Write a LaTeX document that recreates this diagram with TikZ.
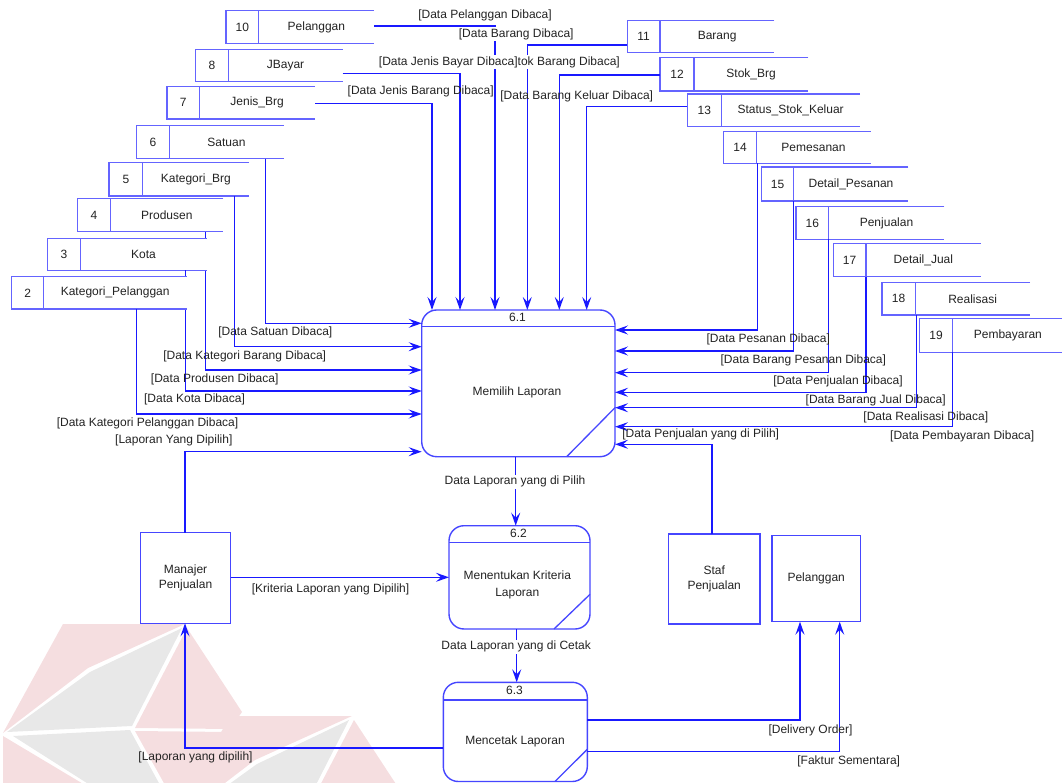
\documentclass[tikz,border=0pt]{standalone}
\usepackage{fontspec}
\setmainfont{Liberation Sans}
\usetikzlibrary{arrows.meta}
\definecolor{flowc}{RGB}{25,25,255}
\definecolor{storec}{RGB}{100,100,255}
\definecolor{procc}{RGB}{70,70,255}
\definecolor{txt}{RGB}{35,35,35}
\definecolor{wmpink}{RGB}{245,222,224}
\definecolor{wmgrey}{RGB}{232,232,232}
\tikzset{
 flow/.style={draw=flowc, line width=1.4pt, -{Stealth[length=13pt,width=9pt,inset=5pt]}},
 storeline/.style={draw=storec, line width=1.5pt},
 storebg/.style={fill=white, draw=none, inner sep=0pt, outer sep=0pt},
 proc/.style={draw=procc, line width=1.4pt, fill=white, rounded corners=15pt, inner sep=0pt, outer sep=0pt},
 procline/.style={draw=procc, line width=1.3pt},
 entity/.style={draw=procc, line width=1.4pt, fill=white, inner sep=0pt, outer sep=0pt, align=center, text=txt, font=\fontsize{12}{15}\selectfont},
 lbl/.style={text=txt, font=\fontsize{12}{14}\selectfont, inner sep=0pt},
 olbl/.style={lbl, fill=white, inner sep=1.5pt},
}
% #1 name, #2 left, #3 top, #4 right, #5 bottom, #6 divider, #7 number, #8 label
\newcommand\dstore[8]{%
 \node[storebg, minimum width={#4-#2}, minimum height={#5-#3}, anchor=north west] (#1) at (#2,#3) {};
 \draw[storeline] (#1.north east) -- (#1.north west) -- (#1.south west) -- (#1.south east);
 \draw[storeline] (#6,#3) -- (#6,#5);
 \node[lbl] at ({(#2+#6)/2},{(#3+#5)/2}) {#7};
 \node[lbl] at ({(#6+#4)/2},{(#3+#5)/2}) {#8};
}
\newcommand\wmmotif[2]{%
 \begin{scope}[shift={(#1,#2)}]
  \fill[wmpink] (-122,-1) -- (0,-1) -- (-97,43) -- (-182,108) -- cycle;
  \fill[wmpink] (2,3) -- (57,87) -- (45,104) -- (-50,103) -- cycle;
  \fill[wmgrey] (-3,3) -- (-95,47) -- (-178,107) -- (-53,101) -- cycle;
  \fill[wmpink] (-182,111) -- (-100,160) -- (-182,160) -- cycle;
  \fill[wmgrey] (-172,111) -- (-55,105) -- (-25,160) -- (-95,160) -- cycle;
  \fill[wmpink] (-50,106) -- (44,107) -- (20,160) -- (-20,160) -- cycle;
 \end{scope}}
\begin{document}
\begin{tikzpicture}[x=1pt,y=-1pt]
\useasboundingbox (0,0) rectangle (1062,783);
\begin{scope}
 \clip (0,0) rectangle (1062,783);
 \wmmotif{185}{625}
 \wmmotif{352}{717}
\end{scope}

% ---------- processes and entities ----------
\node[proc, minimum width=193.3, minimum height=146.7] (p61) at (518.35,383.35) {};
\node[proc, minimum width=141, minimum height=103.3] (p62) at (519.5,577.35) {};
\node[proc, minimum width=144, minimum height=99.2] (p63) at (515.3,731.9) {};
\node[entity, minimum width=90.4, minimum height=90.6] (mgr) at (185.5,578) {Manajer\\Penjualan};
\node[entity, minimum width=91.7, minimum height=90] (staf) at (714.2,579) {Staf\\Penjualan};
\node[entity, minimum width=88.3, minimum height=86.4] (pel) at (816.2,578.5) {Pelanggan};

% ---------- data stores ----------
\dstore{s10}{226}{10.7}{374}{43.3}{258.7}{10}{Pelanggan}
\dstore{s8}{195.7}{49.3}{342.7}{81.7}{228.3}{8}{JBayar}
\dstore{s7}{167}{86.7}{315}{119}{199.3}{7}{Jenis\_Brg}
\dstore{s6}{136.7}{125.3}{283.7}{158.7}{169.3}{6}{Satuan}
\dstore{s5}{109}{162.3}{249}{196}{142.7}{5}{Kategori\_Brg}
\dstore{s4}{77.7}{198.3}{223.3}{231.7}{110.3}{4}{Produsen}
\dstore{s11}{627.3}{20.7}{774.3}{52.3}{660}{11}{Barang}
\dstore{s12}{660}{57.3}{808.3}{91}{694}{12}{Stok\_Brg}
\dstore{s13}{687.3}{94}{860}{126.3}{721.3}{13}{Status\_Stok\_Keluar}
\dstore{s14}{723.7}{131.3}{870.7}{163.3}{756.3}{14}{Pemesanan}
\dstore{s15}{761.3}{167}{908.3}{201}{793.7}{15}{Detail\_Pesanan}
\dstore{s16}{796}{206.7}{944.3}{239.3}{828.7}{16}{Penjualan}
\dstore{s17}{833.3}{243.3}{980.7}{276.7}{866}{17}{Detail\_Jual}
\dstore{s18}{882}{282.7}{1030}{315}{915.3}{18}{Realisasi}
\dstore{s19}{919.3}{318.7}{1063}{352.3}{952.7}{19}{Pembayaran}

% ---------- connectors ----------
\draw[flow] (s10.east |- 0,26) -| (p61.north -| 495,0);
\draw[flow] (s8.east |- 0,73.3) -| (p61.north -| 460,0);
\draw[flow] (s7.east |- 0,103.3) -| (p61.north -| 432,0);
\draw[flow] (s11.west |- 0,45) -| (p61.north -| 527.3,0);
\draw[flow] (s12.west |- 0,75) -| (p61.north -| 559.3,0);
\draw[flow] (s13.west |- 0,106.7) -| (p61.north -| 586.7,0);
\draw[flow] (s6.south -| 265.7,0) |- (p61.west |- 0,323.3);
\draw[flow] (s5.south -| 234.7,0) |- (p61.west |- 0,346.7);
\draw[flow] (s4.south -| 205.7,0) |- (p61.west |- 0,370);
\draw[flow] (s14.south -| 757.7,0) |- (p61.east |- 0,330);
\draw[flow] (s15.south -| 793.7,0) |- (p61.east |- 0,351);
\draw[flow] (s16.south -| 828.7,0) |- (p61.east |- 0,372.7);
\draw[flow] (s17.south -| 866,0) |- (p61.east |- 0,392.3);
\draw[flow] (s18.south -| 916.7,0) |- (p61.east |- 0,407.7);
\draw[flow] (s19.south -| 952.7,0) |- (p61.east |- 0,426.7);
\draw[flow] (staf.north -| 712,0) |- (p61.east |- 0,444.3);
\draw[flow] (mgr.north -| 185,0) |- (p61.west |- 0,451.7);
\draw[flow] (p61.south -| 515.7,0) -- (p62.north -| 515.7,0);
\draw[flow] (mgr.east |- 0,577.3) -- (p62.west |- 0,577.3);
\draw[flow] (p62.south -| 516.7,0) -- (p63.north -| 516.7,0);
\draw[flow] (p63.west |- 0,748) -| (mgr.south -| 185,0);
\draw[flow] (p63.east |- 0,720) -| (pel.south -| 800,0);
\draw[flow] (p63.east |- 0,751.7) -| (pel.south -| 839.7,0);

% lower-left stores drawn over the connectors that pass behind them
\dstore{s3}{47.7}{238.3}{206.7}{270.3}{80.3}{3}{Kota}
\draw[flow] (s3.south -| 185.7,0) |- (p61.west |- 0,391);
\dstore{s2}{11.7}{276.7}{186.7}{309}{43.7}{2}{Kategori\_Pelanggan}
\draw[flow] (s2.south -| 136.7,0) |- (p61.west |- 0,414);

% ---------- process details ----------
\draw[procline] (p61.west |- 0,326.7) -- (p61.east |- 0,326.7);
\draw[procline] (p61.south -| 566.7,0) -- (p61.east |- 0,407.7);
\node[lbl] at (517.5,317.5) {6.1};
\node[lbl] at (517,392) {Memilih Laporan};
\draw[procline] (p62.west |- 0,542.3) -- (p62.east |- 0,542.3);
\draw[procline] (p62.south -| 554,0) -- (p62.east |- 0,594.3);
\node[lbl] at (518.5,533.5) {6.2};
\node[lbl, align=center, font=\fontsize{12}{16.6}\selectfont] at (517.3,585) {Menentukan Kriteria\\Laporan};
\draw[procline] (p63.west |- 0,700) -- (p63.east |- 0,700);
\draw[procline] (p63.south -| 555,0) -- (p63.east |- 0,749.3);
\node[lbl] at (514.5,690.5) {6.3};
\node[lbl] at (515,741.5) {Mencetak Laporan};

% ---------- flow labels ----------
\node[lbl] at (485,15) {[Data Pelanggan Dibaca]};
\node[olbl] at (516.2,34) {[Data Barang Dibaca]};
\node[olbl, anchor=east] at (621.5,62.3) {[Data Stok Barang Dibaca]};
\node[olbl, inner sep=0.3pt] at (448.3,62.3) {[Data Jenis Bayar Dibaca]};
\node[lbl] at (420.7,91.7) {[Data Jenis Barang Dibaca]};
\node[lbl] at (576.7,96.7) {[Data Barang Keluar Dibaca]};

\node[lbl] at (275.3,332.7) {[Data Satuan Dibaca]};
\node[lbl] at (244.7,356.3) {[Data Kategori Barang Dibaca]};
\node[lbl] at (214.7,379.7) {[Data Produsen Dibaca]};
\node[lbl] at (194.5,399.3) {[Data Kota Dibaca]};
\node[lbl] at (147.5,423.3) {[Data Kategori Pelanggan Dibaca]};
\node[lbl] at (173.8,440.7) {[Laporan Yang Dipilih]};

\node[lbl] at (768.3,339.3) {[Data Pesanan Dibaca]};
\node[lbl] at (803.3,360) {[Data Barang Pesanan Dibaca]};
\node[lbl] at (838,381.7) {[Data Penjualan Dibaca]};
\node[lbl] at (875.7,400.7) {[Data Barang Jual Dibaca]};
\node[lbl] at (925.8,417.3) {[Data Realisasi Dibaca]};
\node[lbl] at (962.2,436.7) {[Data Pembayaran Dibaca]};
\node[lbl] at (700.7,434.3) {[Data Penjualan yang di Pilih]};

\node[olbl] at (515,481.7) {Data Laporan yang di Pilih};
\node[lbl] at (330.5,589) {[Kriteria Laporan yang Dipilih]};
\node[olbl] at (516.2,646.7) {Data Laporan yang di Cetak};
\node[lbl] at (195.5,757.7) {[Laporan yang dipilih]};
\node[lbl] at (810.5,730) {[Delivery Order]};
\node[lbl] at (848.7,761) {[Faktur Sementara]};
\end{tikzpicture}
\end{document}
